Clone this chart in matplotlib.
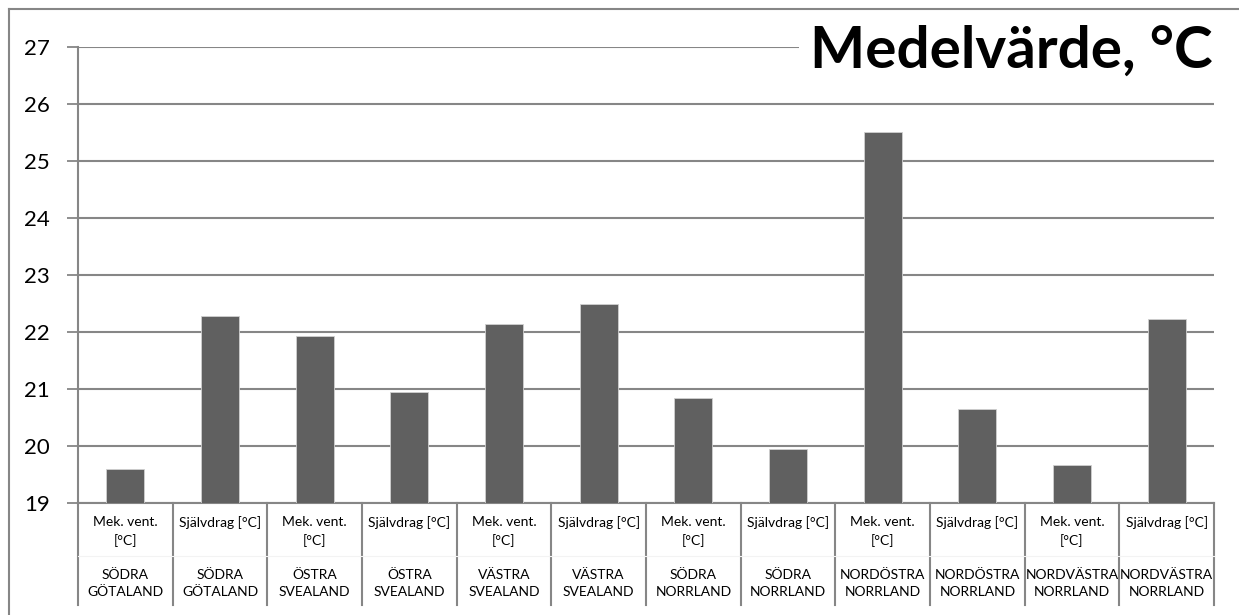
import matplotlib
matplotlib.use("Agg")
import matplotlib.pyplot as plt
import matplotlib.transforms as mtransforms
from matplotlib.lines import Line2D

plt.rcParams["font.family"] = ["Lato", "DejaVu Sans"]

# data
sub_labels = ["Mek. vent.\n[°C]", "Självdrag [°C]"] * 6
regions = ["SÖDRA\nGÖTALAND", "SÖDRA\nGÖTALAND",
           "ÖSTRA\nSVEALAND", "ÖSTRA\nSVEALAND",
           "VÄSTRA\nSVEALAND", "VÄSTRA\nSVEALAND",
           "SÖDRA\nNORRLAND", "SÖDRA\nNORRLAND",
           "NORDÖSTRA\nNORRLAND", "NORDÖSTRA\nNORRLAND",
           "NORDVÄSTRA\nNORRLAND", "NORDVÄSTRA\nNORRLAND"]
values = [19.60, 22.28, 21.93, 20.95, 22.14, 22.50,
          20.84, 19.94, 25.51, 20.65, 19.67, 22.22]
y_ticks = [19, 20, 21, 22, 23, 24, 25, 26, 27]

W, H = 1239, 615
grey = "#868686"

fig = plt.figure(figsize=(W / 100, H / 100), dpi=100)
ax = fig.add_axes([78 / W, 1 - 503 / H, (1214 - 78) / W, (503 - 47) / H])

x = list(range(len(values)))
ax.bar(x, [v - 19 for v in values], bottom=19, width=0.4,
       color="#606060", edgecolor="#d0d0d0", linewidth=0.6, zorder=3)

ax.set_xlim(-0.5, len(values) - 0.5)
ax.set_ylim(19, 27)
ax.set_yticks(y_ticks)
ax.tick_params(axis="y", length=8, width=1.3, color=grey, labelsize=16, pad=12)
ax.set_xticks([])
ax.grid(axis="y", color=grey, linewidth=1.5, zorder=0)
for s in ["top", "right"]:
    ax.spines[s].set_visible(False)
ax.spines["left"].set_color(grey)
ax.spines["left"].set_linewidth(1.5)
ax.spines["bottom"].set_color(grey)
ax.spines["bottom"].set_linewidth(1.5)

# category table below the axis
trans = mtransforms.blended_transform_factory(ax.transData, ax.transAxes)
ah = 503 - 47
y_end = -(605 - 503) / ah
for i in range(len(values) + 1):
    ax.add_line(Line2D([i - 0.5, i - 0.5], [0, y_end], transform=trans,
                       color=grey, linewidth=1.5, clip_on=False))
ax.add_line(Line2D([-0.5, len(values) - 0.5], [-(556 - 503) / ah] * 2,
                   transform=trans, color="#f3f3f3", linewidth=0.8, clip_on=False))
for i in x:
    ax.text(i, -(516 - 503) / ah, sub_labels[i], transform=trans,
            ha="center", va="top", fontsize=10, linespacing=1.55)
    ax.text(i, -(569 - 503) / ah, regions[i], transform=trans,
            ha="center", va="top", fontsize=10, linespacing=1.55)

# outer chart border (left and top only visible)
fig.add_artist(Line2D([9 / W, 9 / W], [0, 1 - 9 / H], color=grey, linewidth=1.5))
fig.add_artist(Line2D([9 / W, 1], [1 - 9 / H, 1 - 9 / H], color=grey, linewidth=1.5))

fig.text(1213 / W, 1 - 51 / H, "Medelvärde, °C", ha="right", va="center",
         fontsize=42, fontweight="bold",
         bbox=dict(facecolor="white", edgecolor="none", pad=8))

fig.savefig("out.png", dpi=100)
